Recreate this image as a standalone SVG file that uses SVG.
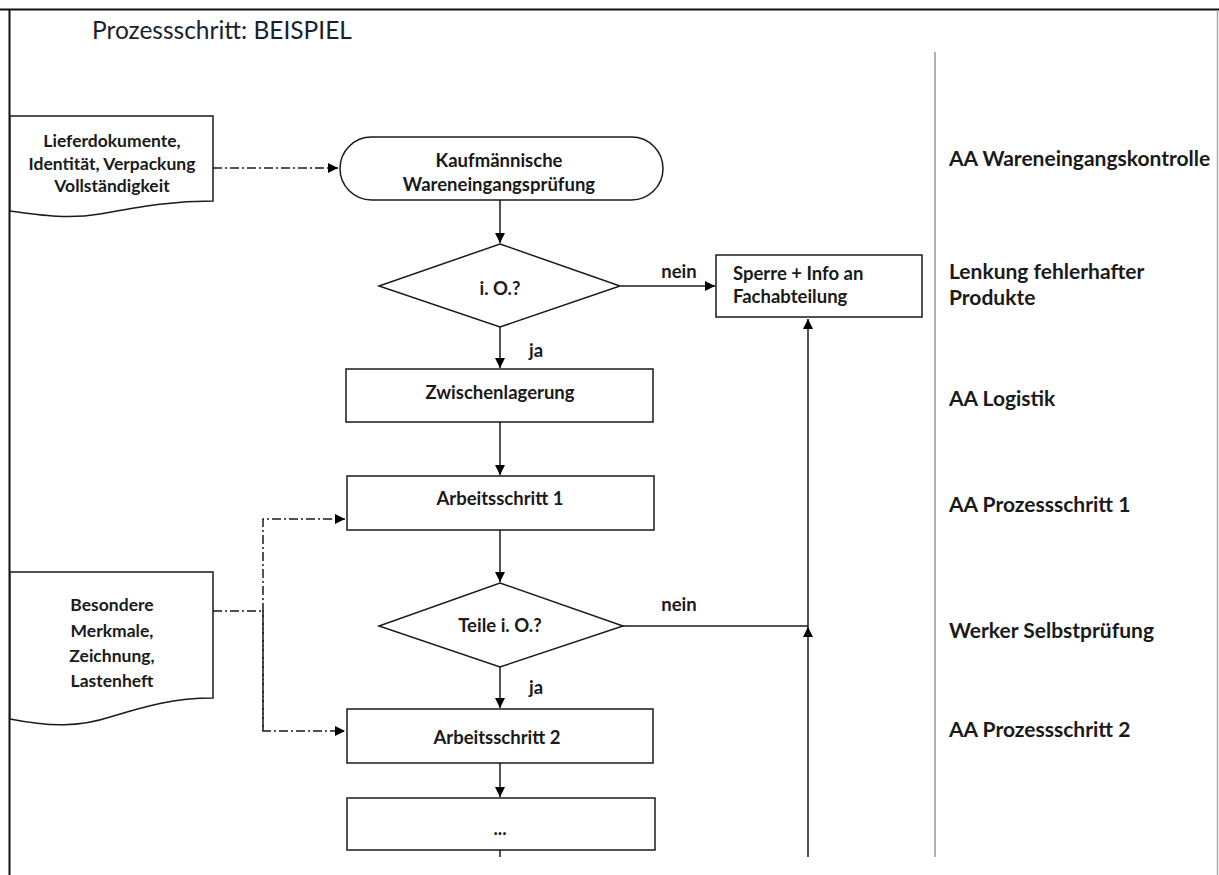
<svg xmlns="http://www.w3.org/2000/svg" width="1219" height="875" viewBox="0 0 1219 875">
<defs>
<marker id="ah" viewBox="0 0 10 10" refX="10" refY="5" markerWidth="10" markerHeight="10" markerUnits="userSpaceOnUse" orient="auto">
<path d="M0,0 L10,5 L0,10 z" fill="#000"/>
</marker>
</defs>
<style>
.shape{fill:#fff;stroke:#1a1a1a;stroke-width:1.5}
.line{fill:none;stroke:#1a1a1a;stroke-width:1.5}
.dd{fill:none;stroke:#1a1a1a;stroke-width:1.5;stroke-dasharray:9,3,2,3}
.t{font-family:Lato,"Open Sans","Liberation Sans",sans-serif;font-weight:bold;font-size:18.5px;fill:#1a1a1a;text-anchor:middle;dominant-baseline:central}
.ts{font-size:17.5px}
.tr{font-size:21px}
.l{text-anchor:start}
.title{font-family:Lato,"Open Sans","Liberation Sans",sans-serif;font-size:24.5px;fill:#1a1f2e}
</style>
<rect width="1219" height="875" fill="#fff"/>
<g id="frame">
<line x1="0" y1="9.5" x2="1219" y2="9.5" stroke="#111" stroke-width="2"/>
<line x1="9.5" y1="9" x2="9.5" y2="875" stroke="#111" stroke-width="2"/>
<line x1="1217.5" y1="10" x2="1217.5" y2="875" stroke="#aaa" stroke-width="1.5"/>
<line x1="935" y1="52" x2="935" y2="857" stroke="#999" stroke-width="1.5"/>
</g>
<text class="title" x="92" y="39">Prozessschritt: BEISPIEL</text>
<g id="connectors">
<path class="dd" d="M213,168 H338" marker-end="url(#ah)"/>
<path class="line" d="M500,200 V243" marker-end="url(#ah)"/>
<path class="line" d="M621,286 H715" marker-end="url(#ah)"/>
<path class="line" d="M500,327 V368" marker-end="url(#ah)"/>
<path class="line" d="M500,422 V475" marker-end="url(#ah)"/>
<path class="line" d="M500,530 V582" marker-end="url(#ah)"/>
<path class="line" d="M623,626 H808"/>
<path class="line" d="M808,857 V627" marker-end="url(#ah)"/>
<path class="line" d="M808,627 V319" marker-end="url(#ah)"/>
<path class="line" d="M500,666 V708" marker-end="url(#ah)"/>
<path class="line" d="M500,763 V797" marker-end="url(#ah)"/>
<path class="line" d="M500,850 V857"/>
<path class="dd" d="M213,611 H263"/>
<path class="dd" d="M263,731 V519 H345" marker-end="url(#ah)"/>
<path class="dd" d="M263,611 V731 H345" marker-end="url(#ah)"/>
<text class="t" x="679" y="271">nein</text>
<text class="t" x="536" y="350">ja</text>
<text class="t" x="679" y="604">nein</text>
<text class="t" x="536" y="687">ja</text>
</g>
<g id="doc1">
<path class="shape" d="M10,116 H213 V201 C170,201 140,207 100,214 C70,219 45,216 10,211 Z"/>
<text class="t ts" x="112" y="140">Lieferdokumente,</text>
<text class="t ts" x="112" y="163">Identität, Verpackung</text>
<text class="t ts" x="112" y="185">Vollständigkeit</text>
</g>
<g id="start">
<rect class="shape" x="340" y="137" width="323" height="63" rx="31.5" ry="31.5"/>
<text class="t" x="499" y="160">Kaufmännische</text>
<text class="t" x="499" y="184">Wareneingangsprüfung</text>
</g>
<g id="dec1">
<polygon class="shape" points="500,244 620,286 500,327 379,286"/>
<text class="t" x="500" y="288">i. O.?</text>
</g>
<g id="sperre">
<rect class="shape" x="716" y="255" width="206" height="62"/>
<text class="t l" x="733" y="273">Sperre + Info an</text>
<text class="t l" x="733" y="296">Fachabteilung</text>
</g>
<g id="zwischen">
<rect class="shape" x="346" y="369" width="307" height="53"/>
<text class="t" x="500" y="392">Zwischenlagerung</text>
</g>
<g id="as1">
<rect class="shape" x="347" y="476" width="307" height="54"/>
<text class="t" x="500" y="498">Arbeitsschritt 1</text>
</g>
<g id="dec2">
<polygon class="shape" points="500,583 623,626 500,667 379,626"/>
<text class="t" x="500" y="625">Teile i. O.?</text>
</g>
<g id="as2">
<rect class="shape" x="347" y="709" width="306" height="54"/>
<text class="t" x="497" y="737">Arbeitsschritt 2</text>
</g>
<g id="dots">
<rect class="shape" x="347" y="798" width="308" height="52"/>
<text class="t" x="500" y="828">...</text>
</g>
<g id="doc2">
<path class="shape" d="M10,572 H213 V698 C170,698 140,708 110,717 C80,727 50,727 10,719 Z"/>
<text class="t ts" x="112" y="604">Besondere</text>
<text class="t ts" x="112" y="630">Merkmale,</text>
<text class="t ts" x="112" y="655">Zeichnung,</text>
<text class="t ts" x="112" y="680">Lastenheft</text>
</g>
<g id="labels">
<text class="t tr l" x="949" y="157">AA Wareneingangskontrolle</text>
<text class="t tr l" x="949" y="270">Lenkung fehlerhafter</text>
<text class="t tr l" x="949" y="296">Produkte</text>
<text class="t tr l" x="949" y="397">AA Logistik</text>
<text class="t tr l" x="949" y="503">AA Prozessschritt 1</text>
<text class="t tr l" x="949" y="629">Werker Selbstprüfung</text>
<text class="t tr l" x="949" y="728">AA Prozessschritt 2</text>
</g>
</svg>
